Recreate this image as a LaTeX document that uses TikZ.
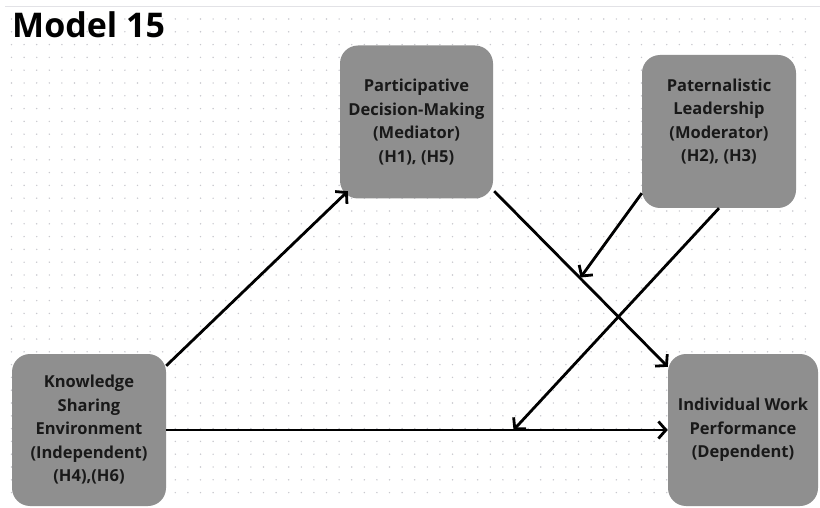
\documentclass[tikz,border=0pt]{standalone}
\usepackage{fontspec}
\setmainfont{Open Sans}
\usetikzlibrary{arrows.meta}
\definecolor{boxgray}{RGB}{143,143,143}
\definecolor{dotgray}{RGB}{200,200,206}
\definecolor{rulegray}{RGB}{226,226,230}
\begin{document}
\begin{tikzpicture}[x=1pt,y=1pt,
	box/.style={rounded corners=18pt,fill=boxgray,align=center,inner sep=0pt,font=\fontsize{16.5}{23.5}\selectfont\bfseries,text=black!90},
	link/.style={line width=2.8pt,-{Straight Barb[length=7.5pt,width=17pt]}}]
			\fill[white](0,0) rectangle (820,507);
			\useasboundingbox (0,0) rectangle (820,507);
			\draw[rulegray,line width=1pt](5,500)--(820,500);
			\foreach \i in {0,...,63}
				\foreach \j in {0,...,37}
					\fill[dotgray](11.5+12.6*\i,488-12.8*\j) circle (0.8);
			\node[anchor=base west,inner sep=0pt,font=\fontsize{34}{40}\selectfont\bfseries](title) at (12,469){Model 15};
			\node[box,minimum width=153pt,minimum height=153pt](pdm) at (416.5,385){Participative\\Decision-Making\\(Mediator)\\(H1), (H5)};
			\node[box,minimum width=154pt,minimum height=153pt,text depth=23pt](pl) at (719,375.5){Paternalistic\\Leadership\\(Moderator)\\(H2), (H3)};
			\node[box,minimum width=154pt,minimum height=152pt](kse) at (89,77){Knowledge\\Sharing\\Environment\\(Independent)\\(H4),(H6)};
			\node[box,minimum width=150pt,minimum height=152pt](iwp) at (743,77){Individual Work\\Performance\\(Dependent)};
			\coordinate (mod1) at (580.5,229.5);
			\coordinate (mod2) at (513.5,77);
			\draw[link]([yshift=-12pt]kse.north east)--([shift={(8,7.5)}]pdm.south west);
			\draw[link]([shift={(1,7.5)}]pdm.south east)--([yshift=-13pt]iwp.north west);
			\draw[link]([yshift=15pt]pl.south west)--(mod1);
			\draw[link](pl.south)--(mod2);
			\draw[link](kse.east)--(iwp.west);
		\end{tikzpicture}
\end{document}
